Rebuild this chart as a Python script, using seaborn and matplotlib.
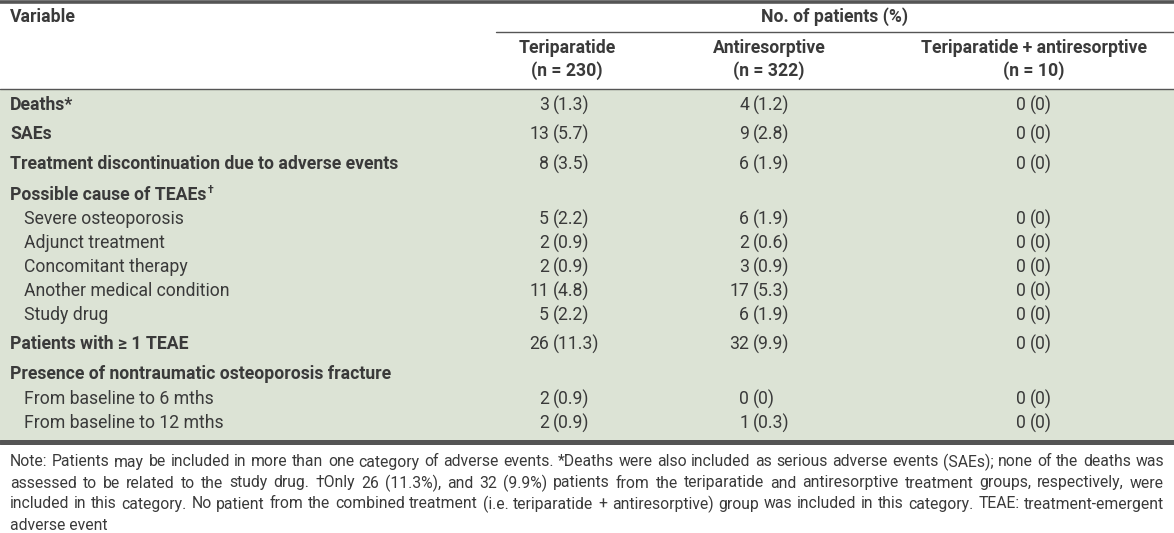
import matplotlib
matplotlib.use("Agg")
import matplotlib.pyplot as plt
import seaborn as sns

sns.set_theme(style="white")
plt.rcParams["font.family"] = ["Roboto", "DejaVu Sans"]

# table content
row_labels = [
    "Deaths*", "SAEs", "Treatment discontinuation due to adverse events",
    "Possible cause of TEAEs", "Severe osteoporosis", "Adjunct treatment",
    "Concomitant therapy", "Another medical condition", "Study drug",
    "Patients with \u2265 1 TEAE", "Presence of nontraumatic osteoporosis fracture",
    "From baseline to 6 mths", "From baseline to 12 mths",
]
row_marks = ["", "", "", "\u2020", "", "", "", "", "", "", "", "", ""]
row_bold = [True, True, True, True, False, False, False, False, False, True, True, False, False]

teri_n = [3, 13, 8, None, 5, 2, 2, 11, 5, 26, None, 2, 2]
teri_pct = [1.3, 5.7, 3.5, None, 2.2, 0.9, 0.9, 4.8, 2.2, 11.3, None, 0.9, 0.9]
anti_n = [4, 9, 6, None, 6, 2, 3, 17, 6, 32, None, 0, 1]
anti_pct = [1.2, 2.8, 1.9, None, 1.9, 0.6, 0.9, 5.3, 1.9, 9.9, None, 0, 0.3]
combo_n = [0, 0, 0, None, 0, 0, 0, 0, 0, 0, None, 0, 0]
combo_pct = [0, 0, 0, None, 0, 0, 0, 0, 0, 0, None, 0, 0]

group_names = ["Teriparatide", "Antiresorptive", "Teriparatide + antiresorptive"]
group_sizes = [230, 322, 10]

footnote = [
    "Note: Patients may be included in more than one category of adverse events. *Deaths were also included as serious adverse events (SAEs); none of the deaths was",
    "assessed to be related to the study drug. \u2020Only 26 (11.3%), and 32 (9.9%) patients from the teriparatide and antiresorptive treatment groups, respectively, were",
    "included in this category. No patient from the combined treatment (i.e. teriparatide + antiresorptive) group was included in this category. TEAE: treatment-emergent",
    "adverse event",
]

# layout (pixel coordinates)
W, H = 1174, 533
txt = "#3a3a3a"
rule = "#555555"
body_bg = "#dce3d5"
fs = 12.7
fs_note = 11.3

row_y = [105, 134, 164, 195, 219, 243, 267, 291, 315, 344, 374, 399, 423]
col_centers = [567, 769, 1034]
paren_x = [553, 753, 1030]

fig = plt.figure(figsize=(W / 100, H / 100), dpi=100)
ax = fig.add_axes([0, 0, 1, 1])
ax.set_xlim(0, W)
ax.set_ylim(H, 0)
ax.axis("off")
renderer = fig.canvas.get_renderer()


def text_width(t):
    bb = t.get_window_extent(renderer=renderer)
    return bb.width


# body background and rules
ax.add_patch(plt.Rectangle((0, 89), W, 351, color=body_bg, lw=0, zorder=0))
ax.plot([0, W], [1.5, 1.5], color=rule, lw=2.6)
ax.plot([496, W], [32, 32], color=rule, lw=1.0)
ax.plot([0, W], [89, 89], color=rule, lw=1.0)
ax.plot([0, W], [441.5, 441.5], color=rule, lw=3.6)

# header
ax.text(10, 17, "Variable", color=txt, fontsize=fs, fontweight="bold", va="center", ha="left")
ax.text(835, 17, "No. of patients (%)", color=txt, fontsize=fs, fontweight="bold", va="center", ha="center")
for cx, name, n in zip(col_centers, group_names, group_sizes):
    ax.text(cx, 48, name, color=txt, fontsize=fs, fontweight="bold", va="center", ha="center")
    ax.text(cx, 71, f"(n = {n})", color=txt, fontsize=fs, fontweight="bold", va="center", ha="center")

# body rows
cols = [(teri_n, teri_pct), (anti_n, anti_pct), (combo_n, combo_pct)]
for i, (label, mark, bold, y) in enumerate(zip(row_labels, row_marks, row_bold, row_y)):
    x0 = 10 if bold else 24
    t = ax.text(x0, y, label, color=txt, fontsize=fs,
                fontweight="bold" if bold else "normal", va="center", ha="left")
    if mark:
        ax.text(x0 + text_width(t) + 1, y - 5, mark, color=txt, fontsize=fs * 0.6,
                fontweight="bold", va="center", ha="left")
    for (ns, pcts), px in zip(cols, paren_x):
        if ns[i] is None:
            continue
        ax.text(px - 4, y, f"{ns[i]}", color=txt, fontsize=fs, va="center", ha="right")
        ax.text(px, y, f"({pcts[i]:g})", color=txt, fontsize=fs, va="center", ha="left")

# footnote, justified to the table width
right_edge = 1164
for k, line in enumerate(footnote):
    y = 462 + 21 * k
    if k == len(footnote) - 1:
        ax.text(10, y, line, color=txt, fontsize=fs_note, va="center", ha="left")
        continue
    words = line.split(" ")
    items = [ax.text(0, y, w, color=txt, fontsize=fs_note, va="center", ha="left") for w in words]
    widths = [text_width(t) for t in items]
    gap = (right_edge - 10 - sum(widths)) / (len(words) - 1)
    x = 10
    for t, w in zip(items, widths):
        t.set_x(x)
        x += w + gap

fig.savefig("out.png", dpi=100)
